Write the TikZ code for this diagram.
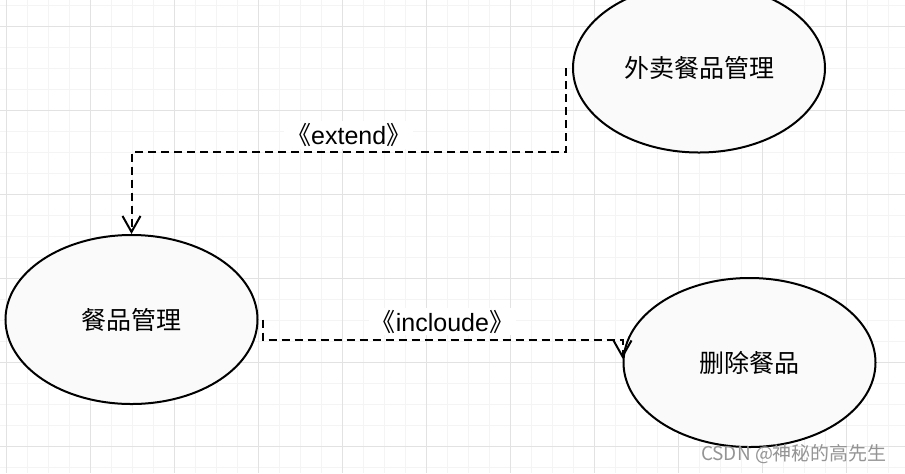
\documentclass[tikz,border=0pt]{standalone}
\usepackage{fontspec}
\setmainfont{Noto Sans CJK SC}
\newfontfamily\latinfont{Liberation Sans}
\usetikzlibrary{positioning, arrows.meta, shapes.geometric}

\definecolor{ucfill}{HTML}{FAFAFA}
\definecolor{gridmajor}{HTML}{E2E2E2}
\definecolor{gridminor}{HTML}{F4F4F4}

\begin{document}
\begin{tikzpicture}[
    x=0.5pt, y=-0.5pt,
    % 定义通用样式
    usecase/.style={ellipse, draw=black, line width=1pt, fill=ucfill, minimum width=126pt, minimum height=84.5pt, inner sep=0pt, font=\fontsize{12.5pt}{14pt}\selectfont},
    stereo/.style={fill=white, inner sep=1pt, font=\fontsize{12.5pt}{14pt}\selectfont},
    minorgrid/.style={draw=gridminor, line width=0.5pt},
    majorgrid/.style={draw=gridmajor, line width=0.5pt},
    % 定义箭头样式
    dep/.style={-{Straight Barb[length=8pt, width=9pt, line width=1pt]}, line width=1pt, dash pattern=on 4pt off 2.5pt}
]
\useasboundingbox (0,0) rectangle (905,473);
\clip (0,0) rectangle (905,473);

% ====================
% 背景网格
% ====================
\foreach \i in {0,...,43} \draw[minorgrid] ({6.3+21*\i},0) -- ({6.3+21*\i},473);
\foreach \j in {0,...,22} \draw[minorgrid] (0,{5.3+21*\j}) -- (905,{5.3+21*\j});
\foreach \i in {0,...,10} \draw[majorgrid] ({6.3+84*\i},0) -- ({6.3+84*\i},473);
\foreach \j in {0,...,5} \draw[majorgrid] (0,{26.3+84*\j}) -- (905,{26.3+84*\j});

% ====================
% 用例
% ====================
\node[usecase] (takeout) at (699,68) {外卖餐品管理};
\node[usecase] (dishMgmt) at (131.5,319.5) {餐品管理};
\node[usecase] (delDish) at (749.5,362.5) {删除餐品};

% ====================
% 关系
% ====================
\coordinate (extStart) at ([xshift=-3pt]takeout.west);
\coordinate (incStart) at ([xshift=2pt]dishMgmt.east);
\coordinate (incEnd) at ([yshift=2pt]delDish.west);

\draw[dep] (extStart) -- ++(0,84) -| node[stereo, pos=0.25, yshift=8.5pt] (extLabel) {《{\latinfont extend}》} (dishMgmt.north);
\draw[dep] (incStart) -- ++(0,20) -| node[stereo, pos=0.25, yshift=9pt] (incLabel) {《{\latinfont incloude}》} (incEnd);

% 水印
\node[text=black!42, font=\fontsize{9.5pt}{11pt}\selectfont] (mark) at (794,454) {CSDN @神秘的高先生};

\end{tikzpicture}
\end{document}
